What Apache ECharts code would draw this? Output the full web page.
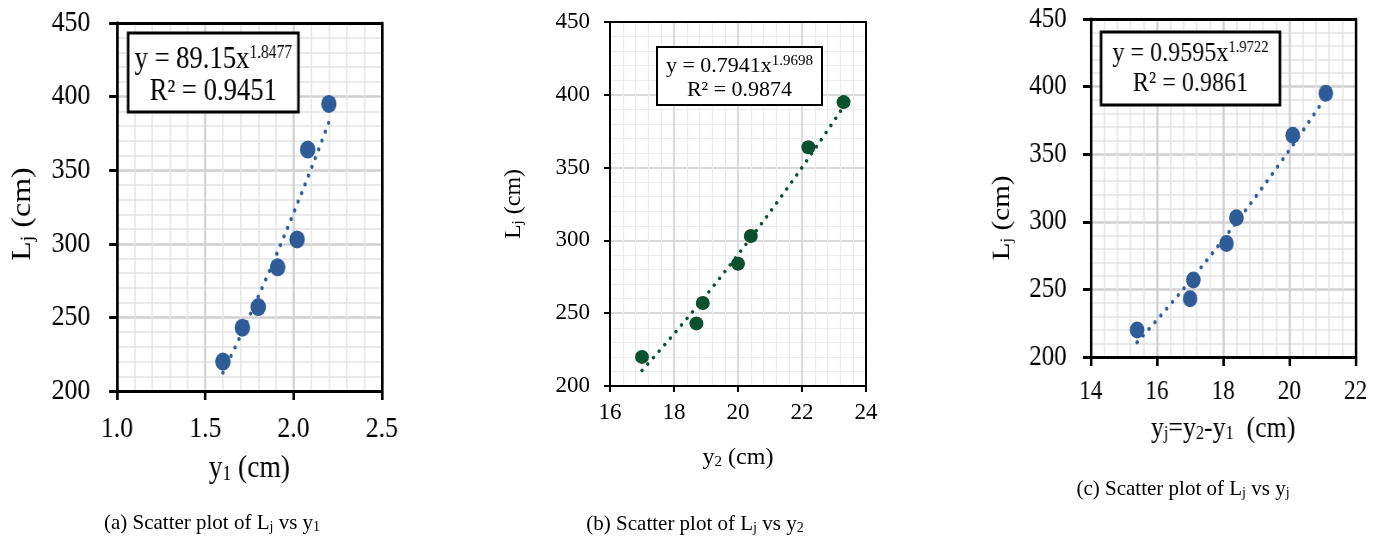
<!DOCTYPE html>
<html>
<head>
<meta charset="utf-8">
<title>Jump length scatter plots</title>
<script src="https://cdn.jsdelivr.net/npm/echarts@6.0.0/dist/echarts.min.js"></script>
<style>
  html, body { margin: 0; padding: 0; background: #fff; }
  body { position: relative; width: 1384px; height: 545px; overflow: hidden; }
  .layer { position: absolute; top: 0; height: 545px; }
  #captions { left: 0; width: 1384px; z-index: 0; }
  #panelA { left: 0; width: 500px; transform: scaleX(0.86); transform-origin: 0 0; z-index: 1; }
  #panelB { left: 480px; width: 440px; z-index: 1; }
  #panelC { left: 960px; width: 493px; transform: scaleX(0.86); transform-origin: 0 0; z-index: 1; }
</style>
</head>
<body>
<div id="captions" class="layer"></div>
<div id="panelA" class="layer"></div>
<div id="panelB" class="layer"></div>
<div id="panelC" class="layer"></div>
<script>
// Measured jump length L_j (cm) and depths y1, y2, yj = y2 - y1 (cm)
const jumpLength = [220, 243, 257, 284, 303, 364, 395];
const depthY1 = [1.60, 1.71, 1.80, 1.91, 2.02, 2.08, 2.20];
const depthY2 = [17.0, 18.7, 18.9, 20.0, 20.4, 22.2, 23.3];
const depthYj = [15.4, 17.0, 17.1, 18.1, 18.4, 20.1, 21.1];

// Power-law trend lines y = a * x^b, with R^2: [a, b, r2]
const fitY1 = [89.15, 1.8477, 0.9451];
const fitY2 = [0.7941, 1.9698, 0.9874];
const fitYj = [0.9595, 1.9722, 0.9861];

// Axis ranges: [min, max, interval]
const lengthRange = [200, 450, 50];
const y1Range = [1.0, 2.5, 0.5];
const y2Range = [16, 24, 2];
const yjRange = [14, 22, 2];

// Text pieces: even entries are normal text, odd entries are subscripts
const lengthTitle = ['L', 'j', ' (cm)'];
const y1Title = ['y', '1', ' (cm)'];
const y2Title = ['y', '2', ' (cm)'];
const yjTitle = ['y', 'j', '=y', '2', '-y', '1', '  (cm)'];
const captionA = ['(a) Scatter plot of L', 'j', ' vs y', '1'];
const captionB = ['(b) Scatter plot of L', 'j', ' vs y', '2'];
const captionC = ['(c) Scatter plot of L', 'j', ' vs y', 'j'];

const SERIF = "'Liberation Serif', 'Times New Roman', serif";
const CAPTION_FONT = "'Liberation Serif', 'Times New Roman', serif";

function richMarkup(parts) {
  return parts.map((p, i) => (i % 2 ? '{s|' : '{m|') + p + '}').join('');
}

function subRich(fs, family) {
  const sf = Math.round(fs * 0.62);
  return {
    m: { fontSize: fs, fontFamily: family, color: '#000', lineHeight: fs },
    s: { fontSize: sf, fontFamily: family, color: '#000', verticalAlign: 'bottom', lineHeight: Math.round(fs * 0.4) }
  };
}

function trendPoints(fit, xs) {
  const lo = Math.min(...xs), hi = Math.max(...xs);
  const steps = 48;
  const pts = [];
  for (let i = 0; i <= steps; i++) {
    const x = lo + (hi - lo) * i / steps;
    pts.push([x, fit[0] * Math.pow(x, fit[1])]);
  }
  return pts;
}

function mainAxis(range, st, label, name) {
  return {
    type: 'value', min: range[0], max: range[1], interval: range[2], z: 0,
    axisLine: { show: true, onZero: false, lineStyle: { color: '#000', width: st.axisW } },
    axisTick: { show: true, inside: false, length: st.tickLen, lineStyle: { color: '#000', width: st.axisW } },
    axisLabel: {
      show: true, color: '#000', fontFamily: SERIF, fontSize: label.size, margin: label.margin,
      showMinLabel: true, showMaxLabel: true, formatter: label.formatter
    },
    splitLine: { show: true, lineStyle: { color: st.major, width: st.majorW } },
    minorTick: { show: false, splitNumber: 5 },
    minorSplitLine: { show: true, lineStyle: { color: st.minor, width: st.minorW } },
    name: richMarkup(name.parts),
    nameLocation: 'middle',
    nameGap: name.gap,
    nameTextStyle: Object.assign({
      color: '#000', fontFamily: SERIF, fontSize: name.size,
      rich: subRich(name.size, SERIF)
    }, name.padding ? { padding: name.padding } : {})
  };
}

function frameAxis(range, position, st) {
  return {
    type: 'value', position: position, min: range[0], max: range[1], interval: range[2], z: 3,
    silent: true,
    axisLine: { show: true, onZero: false, lineStyle: { color: '#000', width: st.axisW } },
    axisTick: { show: false }, axisLabel: { show: false }, splitLine: { show: false }
  };
}

function equationBox(fit, box) {
  const text = '{m|y = ' + fit[0] + 'x}{p|' + fit[1] + '}\n{m|R\u00b2 = ' + fit[2] + '}';
  return {
    type: 'group', x: box.x, y: box.y, z: 20,
    children: [
      { type: 'rect', z: 20, shape: { x: 0, y: 0, width: box.w, height: box.h },
        style: { fill: '#fff', stroke: '#000', lineWidth: box.lineW } },
      { type: 'text', z: 21, x: box.w / 2, y: box.textTop,
        style: {
          text: text, align: 'center', verticalAlign: 'top', fill: '#000',
          rich: {
            m: { fontSize: box.font, fontFamily: SERIF, color: '#000', lineHeight: box.line },
            p: { fontSize: box.sup, fontFamily: SERIF, color: '#000', verticalAlign: 'top', lineHeight: box.sup + 1 }
          }
        } }
    ]
  };
}

function buildPanel(elId, p) {
  const chart = echarts.init(document.getElementById(elId), null, { renderer: 'canvas' });
  chart.setOption({
    animation: false,
    backgroundColor: 'transparent',
    grid: Object.assign({ outerBoundsMode: 'none', containLabel: false }, p.grid),
    xAxis: [
      mainAxis(p.xRange, p.style, p.xLabel, p.xName),
      frameAxis(p.xRange, 'top', p.style),
      frameAxis(p.xRange, 'bottom', p.style)
    ],
    yAxis: [
      mainAxis(lengthRange, p.style, p.yLabel, p.yName),
      frameAxis(lengthRange, 'right', p.style),
      frameAxis(lengthRange, 'left', p.style)
    ],
    graphic: { elements: [equationBox(p.fit, p.box)] },
    series: [
      {
        type: 'line', xAxisIndex: 0, yAxisIndex: 0, z: 2, silent: true,
        data: trendPoints(p.fit, p.xs), symbol: 'none', showSymbol: false,
        lineStyle: { color: p.color, width: p.dot.width, type: [0.1, p.dot.gap], cap: 'round' }
      },
      {
        type: 'scatter', xAxisIndex: 0, yAxisIndex: 0, z: 4,
        data: p.xs.map((x, i) => [x, jumpLength[i]]),
        symbol: 'circle', symbolSize: p.marker,
        itemStyle: { color: p.color, opacity: 1 }
      }
    ]
  });
  return chart;
}

const heavyGrid = { axisW: 3, tickLen: 9, major: '#d0d0d0', majorW: 2.5, minor: '#e4e4e4', minorW: 1.5 };
const lightGrid = { axisW: 2, tickLen: 6, major: '#d9d9d9', majorW: 2, minor: '#ececec', minorW: 1.2 };

buildPanel('panelA', {
  xs: depthY1, fit: fitY1, xRange: y1Range, color: '#2f5b96', marker: 18,
  dot: { width: 4, gap: 9.5 }, style: heavyGrid,
  grid: { left: 136, top: 23, width: 308, height: 368 },
  xLabel: { size: 30, margin: 23, formatter: v => v.toFixed(1) },
  yLabel: { size: 30, margin: 31, formatter: v => String(v) },
  xName: { parts: y1Title, size: 32, gap: 62 },
  yName: { parts: lengthTitle, size: 32, gap: 93, padding: [0, 14, 0, 0] },
  box: { x: 149, y: 33, w: 198, h: 79, lineW: 3, textTop: 11, font: 31, line: 32, sup: 18 }
});

buildPanel('panelB', {
  xs: depthY2, fit: fitY2, xRange: y2Range, color: '#0b5130', marker: 14,
  dot: { width: 3.5, gap: 8.5 }, style: lightGrid,
  grid: { left: 130, top: 22, width: 256, height: 364 },
  xLabel: { size: 23, margin: 15, formatter: v => String(v) },
  yLabel: { size: 23, margin: 20, formatter: v => String(v) },
  xName: { parts: y2Title, size: 24, gap: 60 },
  yName: { parts: lengthTitle, size: 24, gap: 84 },
  box: { x: 177, y: 47, w: 165, h: 58, lineW: 2, textTop: 7, font: 22, line: 24, sup: 15 }
});

buildPanel('panelC', {
  xs: depthYj, fit: fitYj, xRange: yjRange, color: '#2f5b96', marker: 17,
  dot: { width: 4, gap: 9.5 }, style: heavyGrid,
  grid: { left: 152, top: 19, width: 308, height: 338 },
  xLabel: { size: 27, margin: 21, formatter: v => String(v) },
  yLabel: { size: 29, margin: 28, formatter: v => String(v) },
  xName: { parts: yjTitle, size: 30, gap: 57 },
  yName: { parts: lengthTitle, size: 29, gap: 88, padding: [0, 60, 0, 0] },
  box: { x: 164, y: 32, w: 208, h: 73, lineW: 3, textTop: 7, font: 28, line: 30, sup: 17 }
});

// Figure captions under each panel
const captionChart = echarts.init(document.getElementById('captions'), null, { renderer: 'canvas' });
const captionPlaces = [
  { parts: captionA, x: 212, y: 523 },
  { parts: captionB, x: 695, y: 524 },
  { parts: captionC, x: 1183, y: 489 }
];
captionChart.setOption({
  animation: false,
  backgroundColor: '#fff',
  graphic: { elements: captionPlaces.map(c => ({
    type: 'text', x: c.x, y: c.y,
    style: {
      text: richMarkup(c.parts), align: 'center', verticalAlign: 'middle', fill: '#000',
      rich: {
        m: { fontSize: 21, fontFamily: CAPTION_FONT, color: '#000', lineHeight: 23 },
        s: { fontSize: 14, fontFamily: CAPTION_FONT, color: '#000', verticalAlign: 'bottom', lineHeight: 10 }
      }
    }
  })) }
});
</script>
</body>
</html>
